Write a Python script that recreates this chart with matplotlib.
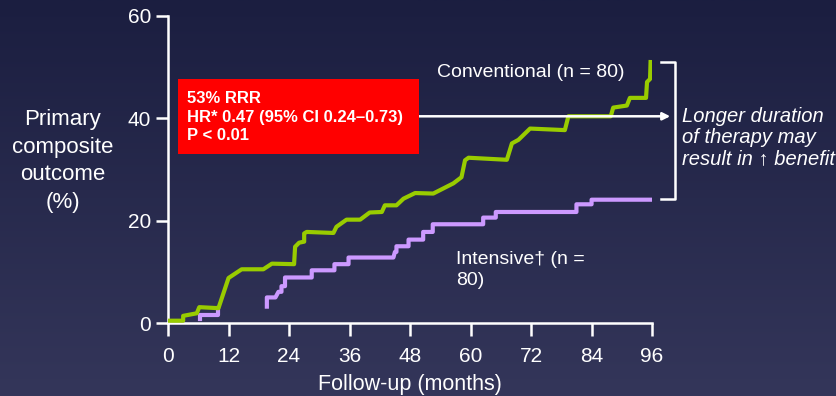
import matplotlib
matplotlib.use("Agg")
import matplotlib.pyplot as plt
import numpy as np
from matplotlib.colors import LinearSegmentedColormap
from matplotlib.patches import Rectangle

plt.rcParams['font.family'] = ['Liberation Sans', 'DejaVu Sans']

# Conventional arm (months, % with event)
conv_m = [0, 3.0, 3.0, 5.7, 6.2, 10.0, 12.0, 14.6, 18.9, 20.6, 25.0, 25.2, 26.0, 27.0,
          27.0, 27.5, 32.8, 33.4, 35.4, 38.1, 40.0, 42.4, 43.0, 45.3, 46.7, 49.0, 52.6,
          56.6, 58.2, 58.9, 59.6, 67.2, 68.2, 69.5, 71.8, 78.7, 79.4, 87.8, 88.3, 91.0,
          91.6, 94.8, 95.0, 95.6, 95.7]
conv_y = [0.45, 0.45, 1.4, 1.9, 3.1, 2.9, 8.8, 10.5, 10.5, 11.6, 11.5, 14.9, 15.7, 15.9,
          17.5, 17.8, 17.6, 18.8, 20.2, 20.2, 21.6, 21.7, 23.0, 23.0, 24.3, 25.4, 25.3,
          27.3, 28.5, 31.8, 32.3, 31.9, 35.1, 35.8, 38.0, 37.7, 40.4, 40.4, 42.1, 42.5,
          44.0, 44.0, 47.1, 47.7, 51.0]

# Intensive arm: early piece and main piece
int1_m = [6.3, 6.3, 9.9, 9.9]
int1_y = [0.7, 1.6, 1.6, 2.9]
int2_m = [19.6, 19.6, 20.6, 21.3, 21.9, 22.5, 22.5, 23.2, 23.2, 28.5, 28.5, 33.0, 33.0,
          35.8, 35.8, 44.7, 45.0, 45.3, 45.3, 47.7, 47.7, 50.6, 50.6, 52.5, 52.5, 62.5,
          62.5, 65.0, 65.0, 81.0, 81.0, 84.0, 84.0, 96.0]
int2_y = [3.2, 5.0, 5.0, 5.0, 6.1, 6.1, 7.2, 7.2, 8.9, 8.9, 10.3, 10.3, 11.5, 11.5, 12.8,
          12.8, 13.9, 13.9, 15.0, 15.0, 16.3, 16.3, 17.8, 17.8, 19.3, 19.3, 20.6, 20.6,
          21.7, 21.7, 23.2, 23.2, 24.1, 24.1]

x_ticks = [0, 12, 24, 36, 48, 60, 72, 84, 96]
y_ticks = [0, 20, 40, 60]

green = '#99cc00'
purple = '#cc99ff'
white = 'white'

fig = plt.figure(figsize=(8.36, 3.96), dpi=100)

# background gradient
bg = fig.add_axes([0, 0, 1, 1], zorder=-10)
cmap = LinearSegmentedColormap.from_list('bg', ['#1b1e40', '#34365a'])
bg.imshow(np.linspace(0, 1, 256).reshape(-1, 1), aspect='auto', cmap=cmap,
          extent=[0, 1, 0, 1])
bg.axis('off')

ax = fig.add_axes([0.201, 0.1843, 0.579, 0.7753])
ax.patch.set_alpha(0)

ax.plot(conv_m, conv_y, color=green, lw=3, solid_joinstyle='round', zorder=3)
ax.plot(int1_m, int1_y, color=purple, lw=3, zorder=2)
ax.plot(int2_m, int2_y, color=purple, lw=3, zorder=2)

ax.set_xlim(0, 96)
ax.set_ylim(0, 60)
ax.set_xticks(x_ticks)
ax.set_yticks(y_ticks)
for s in ['top', 'right']:
    ax.spines[s].set_visible(False)
for s in ['left', 'bottom']:
    ax.spines[s].set_color(white)
    ax.spines[s].set_linewidth(1.8)
ax.tick_params(colors=white, labelsize=15, width=1.8, length=9)
ax.tick_params(axis='x', pad=8)
ax.tick_params(axis='y', pad=3)
ax.set_xlabel('Follow-up (months)', color=white, fontsize=15.5, labelpad=6)
ax.set_ylabel('Primary\ncomposite\noutcome\n(%)', color=white, fontsize=16,
              rotation=0, ha='center', va='center', labelpad=0, linespacing=1.42)
ax.yaxis.set_label_coords(-0.218, 0.528)

# red result box
fig.patches.append(Rectangle((0.2129, 0.6111), 0.2883, 0.1894, transform=fig.transFigure,
                             fc='#ff0000', ec='none', zorder=1))
fig.text(0.2237, 0.7045, '53% RRR\nHR* 0.47 (95% CI 0.24\u20130.73)\nP < 0.01',
         color=white, fontsize=12, fontweight='bold', va='center', ha='left',
         linespacing=1.32, zorder=2)

# arrow from box to bracket
ax.annotate('', xy=(99.6, 40.4), xytext=(49.8, 40.4),
            arrowprops=dict(arrowstyle='-|>', color=white, lw=1.8,
                            mutation_scale=11, shrinkA=0, shrinkB=0),
            annotation_clip=False)

# bracket
ax.plot([97.8, 100.6, 100.6, 97.8], [51.0, 51.0, 24.2, 24.2], color=white, lw=1.8,
        clip_on=False)

ax.text(53.3, 48.9, 'Conventional (n = 80)', color=white, fontsize=14,
        ha='left', va='center')
ax.text(57.2, 10.4, 'Intensive\u2020 (n =\n80)', color=white, fontsize=14,
        ha='left', va='center', linespacing=1.35)
fig.text(0.8158, 0.653, 'Longer duration\nof therapy may\nresult in \u2191 benefit',
         color=white, fontsize=14.5, style='italic', ha='left', va='center',
         linespacing=1.15)

fig.savefig('out.png', dpi=100)
